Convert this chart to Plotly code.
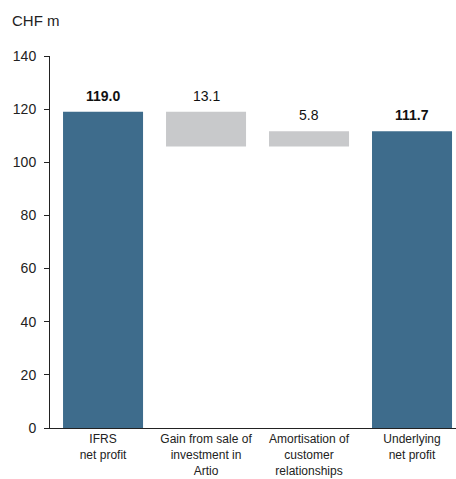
import plotly.graph_objects as go

# Reconciliation from IFRS to underlying net profit (CHF m)
categories = ["IFRS<br>net profit", "Gain from sale of<br>investment in<br>Artio",
              "Amortisation of<br>customer<br>relationships", "Underlying<br>net profit"]
values = [119.0, -13.1, 5.8, 111.7]
is_total = [True, False, False, True]

BLUE = "#3e6c8c"
GREY = "#c8c9cb"
FONT = "Liberation Sans, Arial, sans-serif"

bases, heights, colors, texts = [], [], [], []
running = 0.0
for v, tot in zip(values, is_total):
    if tot:
        bases.append(0.0)
        heights.append(v)
        running = v
        colors.append(BLUE)
        texts.append(f"<b>{v:.1f}</b>")
    else:
        new = running + v
        bases.append(min(running, new))
        heights.append(abs(v))
        running = new
        colors.append(GREY)
        texts.append(f"{abs(v):.1f}")

x = list(range(len(categories)))

fig = go.Figure(go.Bar(
    x=x, y=heights, base=bases,
    marker=dict(color=colors, line=dict(width=0)),
    width=0.777, hoverinfo="skip",
))

# Value labels above each bar
annotations = [
    dict(x=xi, y=b + h, text=t, showarrow=False, xanchor="center", yanchor="bottom",
         yshift=6, font=dict(family=FONT, size=14, color="#111"))
    for xi, b, h, t in zip(x, bases, heights, texts)
]
annotations.append(dict(text="CHF m", xref="paper", yref="paper", x=-40/406, y=1 + 36/372,
                        xanchor="left", yanchor="middle", showarrow=False,
                        font=dict(family=FONT, size=15, color="#222")))

fig.update_layout(
    width=456, height=479,
    margin=dict(l=50, r=0, t=56, b=51),
    paper_bgcolor="white", plot_bgcolor="white",
    showlegend=False,
    font=dict(family=FONT, color="#222"),
    annotations=annotations,
)
fig.update_xaxes(
    range=[-0.515, 3.427], tickvals=x, ticktext=categories,
    showline=True, linecolor="#222", linewidth=1, ticks="",
    tickfont=dict(size=12, color="#222"), showgrid=False, zeroline=False,
)
fig.update_yaxes(
    range=[0, 140], dtick=20, showline=True, linecolor="#222", linewidth=1,
    ticks="outside", ticklen=5, tickcolor="#222", ticklabelstandoff=5,
    tickfont=dict(size=14, color="#222"), showgrid=False, zeroline=False,
)

fig.write_html("out.html")
